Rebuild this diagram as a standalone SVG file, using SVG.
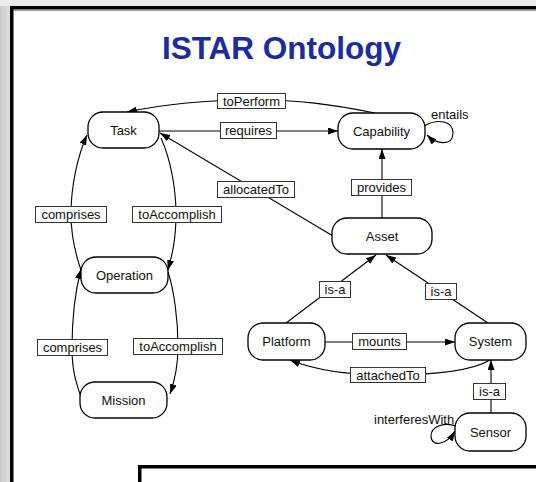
<svg xmlns="http://www.w3.org/2000/svg" width="536" height="482" viewBox="0 0 536 482">
  <defs>
    <linearGradient id="sideShade" x1="0" y1="0" x2="1" y2="0">
      <stop offset="0" stop-color="#c9c9c9"/>
      <stop offset="1" stop-color="#e2e2e2"/>
    </linearGradient>
    <marker id="arrow" viewBox="0 0 10 7" refX="10" refY="3.5" markerWidth="10" markerHeight="7" markerUnits="userSpaceOnUse" orient="auto">
      <path d="M0,0 L10,3.5 L0,7 z" fill="#000"/>
    </marker>
    <style>
      .node rect { fill: #fff; stroke: #000; stroke-width: 1.3; }
      .node text { font-family: "Liberation Sans", Arial, sans-serif; font-size: 13px; fill: #111; text-anchor: middle; }
      .edge { fill: none; stroke: #000; stroke-width: 1.1; }
      .arrowed { marker-end: url(#arrow); }
      .lbl rect { fill: #fff; stroke: #333; stroke-width: 1; }
      .lbl text, .free { font-family: "Liberation Sans", Arial, sans-serif; font-size: 13px; fill: #111; }
      .lbl text { text-anchor: middle; }
    </style>
  </defs>

  <!-- backdrop -->
  <rect x="0" y="0" width="536" height="482" fill="#e7e7e7"/>
  <rect x="0" y="0" width="11" height="482" fill="url(#sideShade)"/>
  <rect x="0" y="0" width="536" height="6" fill="#ebebeb"/>

  <!-- main panel -->
  <rect x="11.75" y="7.75" width="540" height="490" fill="#fff" stroke="#000" stroke-width="3.5"/>
  <line x1="14" y1="10.5" x2="536" y2="10.5" stroke="#9a9a9a" stroke-width="1"/>

  <!-- title -->
  <text x="281.5" y="59" font-family="Liberation Sans, Arial, sans-serif" font-size="31.5" font-weight="bold" fill="#1c2c9c" text-anchor="middle">ISTAR Ontology</text>

  <!-- connectors -->
  <g id="connectors">
    <path class="edge arrowed" d="M375,113 C330,104 300,100 251,100 C205,100 165,104 127,112"/>
    <path class="edge arrowed" d="M159,131 L338,131"/>
    <path class="edge arrowed" d="M333,236 L160,133"/>
    <path class="edge arrowed" d="M382,218 L382,149"/>
    <path class="edge arrowed" d="M286,323 L376,255"/>
    <path class="edge arrowed" d="M488,323 L386,255"/>
    <path class="edge arrowed" d="M325,342 L455,342"/>
    <path class="edge arrowed" d="M490,360 C470,372 430,375 387,375 C345,375 315,370 290,360"/>
    <path class="edge arrowed" d="M491,413 L491,360"/>
    <path class="edge arrowed" d="M81,270 C74,250 71,235 71,214 C71,185 78,155 87,135"/>
    <path class="edge arrowed" d="M81,397 C75,380 72,368 72,348 C72,318 75,292 81,269"/>
    <path class="edge arrowed" d="M161,138 C171,160 176,190 176,214 C176,240 172,255 168,270"/>
    <path class="edge arrowed" d="M168,272 C174,290 178,320 178,346 C178,365 175,380 170,394"/>
    <path class="edge arrowed" d="M424,126 C438,118 453,121 453,133 C453,146 437,145 427,135"/>
    <path class="edge arrowed" d="M456,426 C445,422 431,426 431,436 C431,447 446,446 455,431"/>

    <g class="lbl"><rect x="217.5" y="93.5" width="68" height="15"/><text x="251.5" y="105.5">toPerform</text></g>
    <g class="lbl"><rect x="220.5" y="122.5" width="56" height="16"/><text x="248.5" y="135">requires</text></g>
    <g class="lbl"><rect x="217.5" y="181.5" width="77" height="16"/><text x="256" y="194">allocatedTo</text></g>
    <g class="lbl"><rect x="351.5" y="179.5" width="60" height="16"/><text x="381.5" y="192">provides</text></g>
    <g class="lbl"><rect x="35.5" y="206.5" width="71" height="16"/><text x="71" y="219">comprises</text></g>
    <g class="lbl"><rect x="132.5" y="206.5" width="89" height="16"/><text x="177" y="219">toAccomplish</text></g>
    <g class="lbl"><rect x="37.5" y="339.5" width="70" height="16"/><text x="72.5" y="352">comprises</text></g>
    <g class="lbl"><rect x="133.5" y="338.5" width="89" height="16"/><text x="178" y="351">toAccomplish</text></g>
    <g class="lbl"><rect x="319.5" y="281.5" width="31" height="16"/><text x="335" y="294">is-a</text></g>
    <g class="lbl"><rect x="425.5" y="283.5" width="31" height="16"/><text x="441" y="296">is-a</text></g>
    <g class="lbl"><rect x="352.5" y="333.5" width="54" height="16"/><text x="379.5" y="346">mounts</text></g>
    <g class="lbl"><rect x="350.5" y="367.5" width="75" height="15"/><text x="388" y="379.5">attachedTo</text></g>
    <g class="lbl"><rect x="473.5" y="383.5" width="32" height="16"/><text x="489.5" y="396">is-a</text></g>
    <text class="free" x="431" y="119">entails</text>
    <text class="free" x="374" y="424">interferesWith</text>
  </g>

  <!-- concepts -->
  <g id="task" class="node"><rect x="88" y="112" width="71" height="36" rx="15"/><text x="123.5" y="135">Task</text></g>
  <g id="capability" class="node"><rect x="338" y="113" width="87" height="36" rx="15"/><text x="381.5" y="136">Capability</text></g>
  <g id="asset" class="node"><rect x="332" y="218" width="100" height="36" rx="15"/><text x="382" y="241">Asset</text></g>
  <g id="operation" class="node"><rect x="81" y="257" width="87" height="36" rx="15"/><text x="124.5" y="280">Operation</text></g>
  <g id="mission" class="node"><rect x="80" y="382" width="87" height="36" rx="15"/><text x="123.5" y="405">Mission</text></g>
  <g id="platform" class="node"><rect x="248" y="323" width="77" height="37" rx="15"/><text x="286.5" y="346">Platform</text></g>
  <g id="system" class="node"><rect x="455" y="323" width="71" height="37" rx="15"/><text x="490.5" y="346">System</text></g>
  <g id="sensor" class="node"><rect x="455" y="413" width="71" height="38" rx="15"/><text x="490.5" y="437">Sensor</text></g>

  <!-- lower panel -->
  <rect x="139.75" y="466.75" width="420" height="40" fill="#fff" stroke="#000" stroke-width="3.5"/>
</svg>
